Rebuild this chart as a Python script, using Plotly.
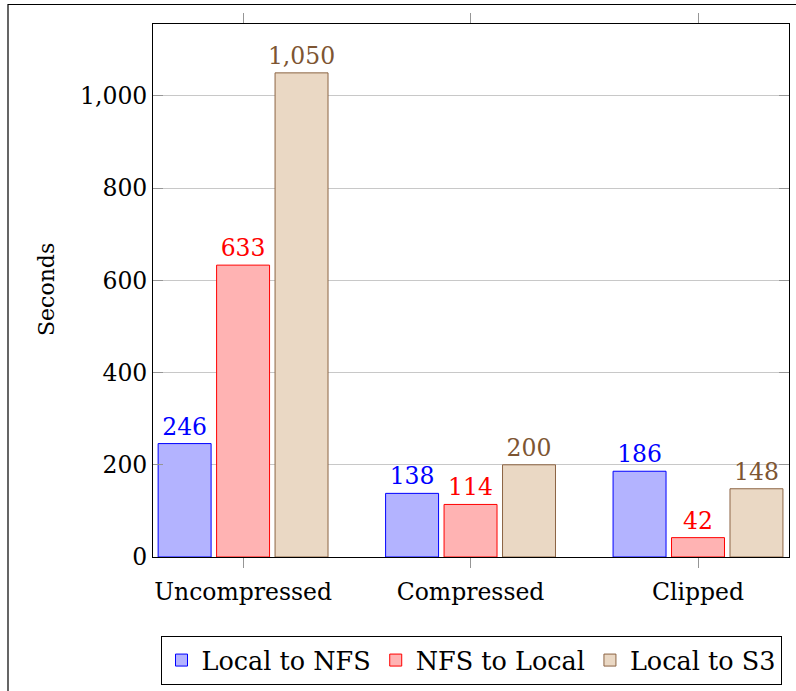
import plotly.graph_objects as go

categories = ["Uncompressed", "Compressed", "Clipped"]
local_to_nfs = [246, 138, 186]
nfs_to_local = [633, 114, 42]
local_to_s3 = [1050, 200, 148]

series = [
    ("Local to NFS", local_to_nfs, "rgb(179,179,255)", "rgb(0,0,255)", "rgb(0,0,255)"),
    ("NFS to Local", nfs_to_local, "rgb(255,179,179)", "rgb(255,0,0)", "rgb(255,0,0)"),
    ("Local to S3", local_to_s3, "rgb(234,216,196)", "rgb(140,100,68)", "rgb(125,85,50)"),
]

FONT = "DejaVu Serif"
FS = 23.5
W, H = 796, 691
L, R, T, B = 153, 7, 24, 134

fig = go.Figure()
for name, vals, fill, edge, txt in series:
    fig.add_trace(go.Bar(
        x=list(range(len(categories))),
        y=vals,
        name=name,
        marker=dict(color=fill, line=dict(color=edge, width=1)),
        texttemplate="%{y:,}",
        textposition="outside",
        constraintext="none",
        cliponaxis=False,
        textfont=dict(family=FONT, size=FS, color=txt),
    ))

pw, ph = W - L - R, H - T - B


def px_x(px):
    return (px - L) / pw


def px_y(py):
    return (H - B - py) / ph


fig.update_layout(
    width=W, height=H,
    margin=dict(l=L, r=R, t=T, b=B, pad=0, autoexpand=False),
    paper_bgcolor="white", plot_bgcolor="white",
    barmode="group", bargap=0.229, bargroupgap=0.094,
    font=dict(family=FONT, size=FS, color="black"),
    showlegend=True,
    legend=dict(
        orientation="h", x=0.5, xanchor="center", y=px_y(636), yanchor="top",
        bordercolor="black", borderwidth=1, bgcolor="white",
        font=dict(family=FONT, size=25.5), itemwidth=30, tracegroupgap=0,
    ),
    xaxis=dict(
        range=[-0.396, 2.4],
        tickmode="array", tickvals=list(range(len(categories))), ticktext=categories,
        ticks="outside", ticklen=10, tickcolor="rgb(150,150,150)", tickwidth=1,
        ticklabelstandoff=4,
        showline=True, linecolor="black", linewidth=1, mirror="allticks",
        showgrid=False, zeroline=False,
        tickfont=dict(family=FONT, size=FS),
    ),
    yaxis=dict(
        range=[0, 1156],
        tickmode="array", tickvals=[0, 200, 400, 600, 800, 1000],
        tickformat=",",
        ticks="inside", ticklen=10, tickcolor="rgb(150,150,150)", tickwidth=1,
        showline=True, linecolor="black", linewidth=1, mirror="allticks",
        showgrid=True, gridcolor="rgb(200,200,200)", gridwidth=1,
        zeroline=False,
        tickfont=dict(family=FONT, size=FS),
    ),
    annotations=[dict(
        text="Seconds", xref="paper", yref="paper",
        x=px_x(46), y=px_y(290), xanchor="center", yanchor="middle",
        textangle=-90, showarrow=False, font=dict(family=FONT, size=22),
    )],
    shapes=[dict(
        type="rect", xref="paper", yref="paper",
        x0=px_x(8), x1=px_x(805), y0=px_y(700), y1=px_y(4.5),
        line=dict(color="black", width=1.2), fillcolor="rgba(0,0,0,0)",
        layer="below",
    )],
)

fig.write_html("out.html")
